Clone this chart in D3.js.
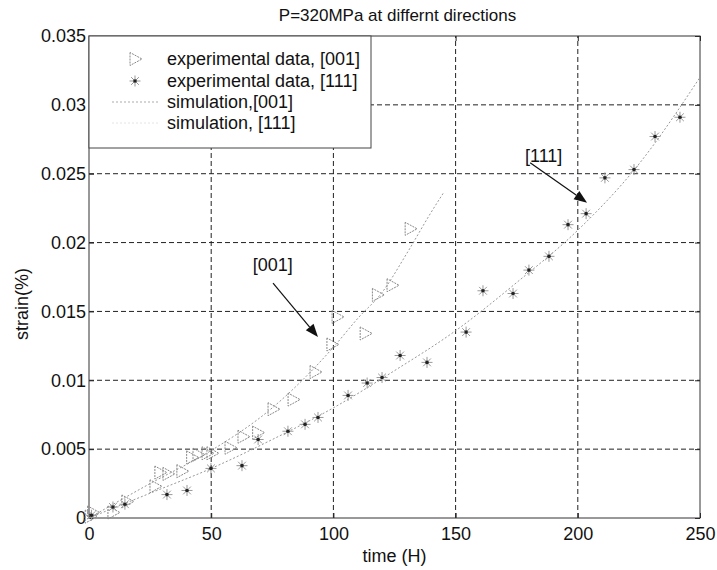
<!DOCTYPE html>
<html><head><meta charset="utf-8">
<script src="https://cdn.jsdelivr.net/npm/d3@7/dist/d3.min.js"></script>
<style>body{margin:0;background:#fff}svg{display:block}text{font-family:"Liberation Sans",Arial,sans-serif}</style>
</head><body>
<script>
const titleText = "P=320MPa at differnt directions";
const xLabel = "time (H)";
const yLabel = "strain(%)";
const xTicks = [0, 50, 100, 150, 200, 250];
const xTickLabels = ["0", "50", "100", "150", "200", "250"];
const yTicks = [0, 0.005, 0.01, 0.015, 0.02, 0.025, 0.03, 0.035];
const yTickLabels = ["0", "0.005", "0.01", "0.015", "0.02", "0.025", "0.03", "0.035"];
const legendLabels = ["experimental data, [001]", "experimental data, [111]", "simulation,[001]", "simulation, [111]"];

const exp001X = [0.5, 1.5, 9.8, 15.5, 27, 29, 32.3, 38, 42, 44.6, 48.3, 50.3, 57.7, 63, 69, 75.3, 83.5, 92.5, 99.4, 101.5, 113, 118, 124, 131.4];
const exp001Y = [0.0001, 0.0004, 0.0004, 0.0012, 0.0023, 0.0033, 0.0032, 0.0034, 0.0044, 0.0046, 0.0047, 0.0047, 0.0051, 0.0059, 0.0062, 0.0079, 0.0086, 0.0106, 0.0126, 0.0146, 0.0134, 0.0162, 0.0169, 0.0210];
const exp111X = [1, 9.8, 14.7, 31.9, 40.1, 49.9, 62.6, 69.2, 81.4, 88.4, 93.7, 106, 113.8, 119.9, 127.3, 138.3, 154.3, 161.2, 173.5, 180, 188.2, 196, 203.4, 211.1, 223, 231.6, 241.8];
const exp111Y = [0.0002, 0.0008, 0.0010, 0.0017, 0.0020, 0.0036, 0.0038, 0.0057, 0.0063, 0.0068, 0.0073, 0.0089, 0.0098, 0.0102, 0.0118, 0.0113, 0.0135, 0.0165, 0.0163, 0.0180, 0.0190, 0.0213, 0.0221, 0.0247, 0.0253, 0.0277, 0.0291];
const sim001X = [0, 25, 50, 75, 100, 110, 120, 130, 140, 145];
const sim001Y = [0, 0.0025, 0.0049, 0.0080, 0.0124, 0.0145, 0.0164, 0.0192, 0.0222, 0.0236];
const sim111X = [0, 25, 50, 75, 100, 125, 150, 175, 200, 225, 250];
const sim111Y = [0, 0.0018, 0.0036, 0.0057, 0.0080, 0.0107, 0.0136, 0.0171, 0.0209, 0.0257, 0.0320];

const annotLabels = ["[001]", "[111]"];
const annotText = [[67, 0.0179], [178.4, 0.02585]];
const annotArrow = [[75.3, 0.01706, 93.7, 0.01314], [180.5, 0.0258, 203.8, 0.0229]];

const W = 717, H = 570;
const M = {l: 89, r: 17, t: 36, b: 52};
const svg = d3.select("body").append("svg").attr("width", W).attr("height", H);
const x = d3.scaleLinear().domain([0, 250]).range([M.l, W - M.r]);
const y = d3.scaleLinear().domain([0, 0.035]).range([H - M.b, M.t]);
const FS = 18;

// grid
const grid = svg.append("g").attr("stroke", "#222").attr("stroke-width", 1).attr("stroke-dasharray", "5,3");
xTicks.slice(1, -1).forEach(v => grid.append("line").attr("x1", x(v)).attr("x2", x(v)).attr("y1", y(0)).attr("y2", y(0.035)));
yTicks.slice(1, -1).forEach(v => grid.append("line").attr("x1", x(0)).attr("x2", x(250)).attr("y1", y(v)).attr("y2", y(v)));

// axes
const ax = svg.append("g").attr("transform", `translate(0,${y(0)})`)
  .call(d3.axisBottom(x).tickValues(xTicks).tickFormat((d, i) => xTickLabels[i]).tickSize(-5).tickSizeOuter(0).tickPadding(9));
const ay = svg.append("g").attr("transform", `translate(${x(0)},0)`)
  .call(d3.axisLeft(y).tickValues(yTicks).tickFormat((d, i) => yTickLabels[i]).tickSize(-5).tickSizeOuter(0).tickPadding(3));
const axT = svg.append("g").attr("transform", `translate(0,${y(0.035)})`)
  .call(d3.axisTop(x).tickValues(xTicks).tickFormat("").tickSize(-5).tickSizeOuter(0));
const ayR = svg.append("g").attr("transform", `translate(${x(250)},0)`)
  .call(d3.axisRight(y).tickValues(yTicks).tickFormat("").tickSize(-5).tickSizeOuter(0));
[ax, ay, axT, ayR].forEach(g => {
  g.selectAll("text").attr("font-size", FS).attr("fill", "#111").style("font-family", '"Liberation Sans",Arial,sans-serif');
  g.selectAll("line").attr("stroke", "#222");
  g.select(".domain").remove();
});
svg.append("rect").attr("x", x(0)).attr("y", y(0.035)).attr("width", x(250) - x(0)).attr("height", y(0) - y(0.035))
  .attr("fill", "none").attr("stroke", "#333").attr("stroke-width", 1);

// simulation lines
const line = d3.line().x(d => x(d[0])).y(d => y(d[1])).curve(d3.curveMonotoneX);
svg.append("path").datum(sim001X.map((v, i) => [v, sim001Y[i]])).attr("d", line)
  .attr("fill", "none").attr("stroke", "#999").attr("stroke-width", 1).attr("stroke-dasharray", "2,2");
svg.append("path").datum(sim111X.map((v, i) => [v, sim111Y[i]])).attr("d", line)
  .attr("fill", "none").attr("stroke", "#999").attr("stroke-width", 1).attr("stroke-dasharray", "2,2");

// markers
function tri(g) {
  g.append("path").attr("d", "M-5,-6.5L-5,6.5L7,0Z").attr("fill", "none").attr("stroke", "#888")
    .attr("stroke-width", 1).attr("stroke-dasharray", "2,1");
}
function star(g) {
  const r = 5.5;
  [0, 45, 90, 135].forEach(a => {
    const c = Math.cos(a * Math.PI / 180) * r, s = Math.sin(a * Math.PI / 180) * r;
    g.append("line").attr("x1", -c).attr("y1", -s).attr("x2", c).attr("y2", s).attr("stroke", "#999").attr("stroke-width", 1);
  });
  g.append("circle").attr("r", 1.8).attr("fill", "#222");
}
svg.append("g").selectAll("g").data(exp001X.map((v, i) => [v, exp001Y[i]])).join("g")
  .attr("transform", d => `translate(${x(d[0])},${y(d[1])})`).each(function () { tri(d3.select(this)); });
svg.append("g").selectAll("g").data(exp111X.map((v, i) => [v, exp111Y[i]])).join("g")
  .attr("transform", d => `translate(${x(d[0])},${y(d[1])})`).each(function () { star(d3.select(this)); });

// annotations
annotLabels.forEach((lab, i) => {
  svg.append("text").attr("x", x(annotText[i][0])).attr("y", y(annotText[i][1])).attr("font-size", FS).attr("fill", "#111").text(lab);
  const [x1, y1, x2, y2] = [x(annotArrow[i][0]), y(annotArrow[i][1]), x(annotArrow[i][2]), y(annotArrow[i][3])];
  const ang = Math.atan2(y2 - y1, x2 - x1), L = 13, Wd = 5;
  const bx = x2 - L * Math.cos(ang), by = y2 - L * Math.sin(ang);
  svg.append("line").attr("x1", x1).attr("y1", y1).attr("x2", bx).attr("y2", by).attr("stroke", "#111").attr("stroke-width", 1.2);
  svg.append("path").attr("d", `M${x2},${y2}L${bx - Wd * Math.sin(ang)},${by + Wd * Math.cos(ang)}L${bx + Wd * Math.sin(ang)},${by - Wd * Math.cos(ang)}Z`).attr("fill", "#111");
});

// legend
const lg = svg.append("g");
lg.append("rect").attr("x", x(0)).attr("y", y(0.035)).attr("width", 282).attr("height", 112).attr("fill", "#fff").attr("stroke", "#444");
const rowsY = [59, 81, 102, 123];
legendLabels.forEach((lab, i) => {
  const ry = rowsY[i];
  lg.append("text").attr("x", 167).attr("y", ry).attr("dy", "0.35em").attr("font-size", FS).attr("fill", "#111").text(lab);
  if (i === 0) tri(lg.append("g").attr("transform", `translate(135,${ry})`));
  if (i === 1) star(lg.append("g").attr("transform", `translate(135,${ry})`));
  if (i === 2) lg.append("line").attr("x1", 112).attr("x2", 158).attr("y1", ry).attr("y2", ry).attr("stroke", "#aaa").attr("stroke-dasharray", "2,2");
  if (i === 3) lg.append("line").attr("x1", 112).attr("x2", 158).attr("y1", ry).attr("y2", ry).attr("stroke", "#e4e4e4").attr("stroke-dasharray", "2,2");
});

// titles
svg.append("text").attr("x", (x(0) + x(250)) / 2 + 3).attr("y", 21).attr("text-anchor", "middle").attr("font-size", 17).attr("fill", "#111").text(titleText);
svg.append("text").attr("x", (x(0) + x(250)) / 2).attr("y", 562).attr("text-anchor", "middle").attr("font-size", FS).attr("fill", "#111").text(xLabel);
svg.append("text").attr("transform", `translate(28,304) rotate(-90)`).attr("text-anchor", "middle").attr("font-size", FS).attr("fill", "#111").text(yLabel);
</script>
</body></html>
